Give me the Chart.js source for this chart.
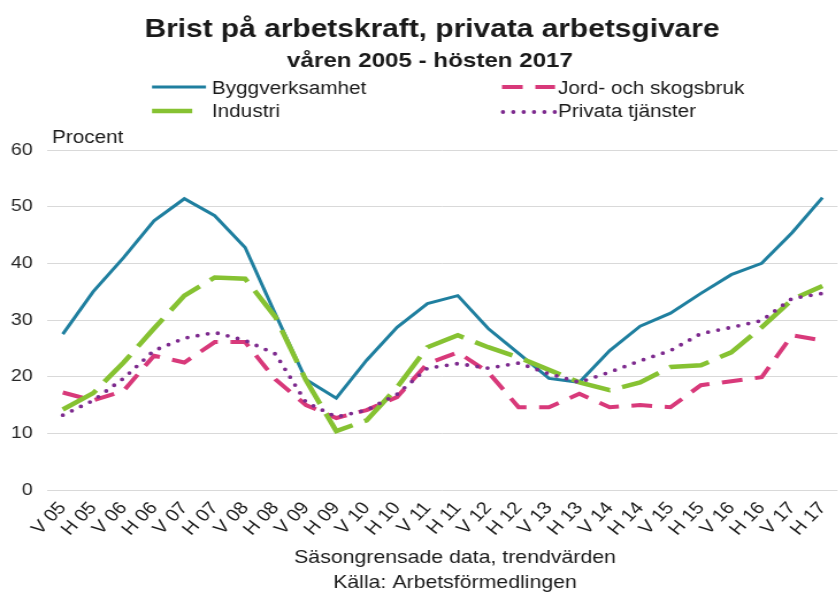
<!DOCTYPE html>
<html><head><meta charset="utf-8">
<script src="https://cdn.jsdelivr.net/npm/chart.js@4"></script>
<style>
html,body{margin:0;padding:0;background:#fff;overflow:hidden;width:838px;height:595px}
#wrap{position:absolute;left:0;top:0;width:739px;height:595px;transform:scaleX(1.15);transform-origin:0 0}
</style></head><body>
<div id="wrap"><canvas id="c" width="739" height="595"></canvas></div>
<script>
// ---- data ----
const categories = ['V 05','H 05','V 06','H 06','V 07','H 07','V 08','H 08','V 09','H 09','V 10','H 10','V 11','H 11','V 12','H 12','V 13','H 13','V 14','H 14','V 15','H 15','V 16','H 16','V 17','H 17'];
const byggverksamhet = [27.5,35,41,47.5,51.4,48.4,42.8,31,19.5,16.2,22.9,28.7,32.9,34.3,28.5,24.1,19.7,19,24.6,28.9,31.2,34.7,38,40,45.4,51.6];
const industri = [14.2,17.1,22.5,28.5,34.3,37.5,37.3,30.5,19.4,10.4,12.3,18.1,25.2,27.3,25.2,23.4,21.2,19,17.6,19,21.7,22,24.3,28.7,33.6,36];
const jordOchSkogsbruk = [17.2,15.8,17.5,23.7,22.5,26.1,26.1,19.5,15,12.7,14.1,16.4,22.3,24.3,20.8,14.6,14.6,17,14.6,15,14.6,18.5,19.2,19.9,27.3,26.4];
const privataTjanster = [13.2,15.8,19.7,24.6,26.8,27.8,26.4,24,15.5,12.9,14.1,16.9,21.5,22.3,21.5,22.4,20.5,19,20.8,22.8,24.6,27.6,28.7,29.9,33.8,34.7];
const yTickValues = [0,10,20,30,40,50,60];
const seriesNames = ['Byggverksamhet','Industri','Jord- och skogsbruk','Privata tjänster'];
const titleText = 'Brist på arbetskraft, privata arbetsgivare';
const subtitleText = 'våren 2005 - hösten 2017';
const yUnitText = 'Procent';
const footerLines = ['Säsongrensade data, trendvärden','Källa: Arbetsförmedlingen'];

const SX = 1.15;              // horizontal stretch of the reference
const vx = v => v / SX;       // visual x -> canvas x
const FONT = '"Liberation Sans", Arial, sans-serif';

const datasets = [
  {label: seriesNames[0], data: byggverksamhet, borderColor:'#1f7f9f', borderWidth:3, borderDash:[], borderCapStyle:'butt', order:3},
  {label: seriesNames[1], data: industri, borderColor:'#86c232', borderWidth:4.5, borderDash:[35,11], borderCapStyle:'butt', order:1},
  {label: seriesNames[2], data: jordOchSkogsbruk, borderColor:'#d8397a', borderWidth:4, borderDash:[18,11], borderCapStyle:'butt', order:2},
  {label: seriesNames[3], data: privataTjanster, borderColor:'#7d2a8e', borderWidth:3.8, borderDash:[0,9], borderCapStyle:'round', order:0}
].map(d => Object.assign({fill:false, tension:0, pointRadius:0, pointHoverRadius:0}, d));

const legendLayout = [
  {ds:0, x1:152, x2:206, y:87, tx:212, ty:94},
  {ds:1, x1:152, x2:202, y:111, tx:212, ty:117},
  {ds:2, x1:502, x2:555, y:87, tx:558, ty:94},
  {ds:3, x1:503, x2:555, y:112, tx:558, ty:117}
];

const textPlugin = {
  id: 'texts',
  afterDraw(chart) {
    const ctx = chart.ctx;
    ctx.save();
    ctx.fillStyle = '#1a1a1a';
    ctx.textBaseline = 'alphabetic';
    ctx.textAlign = 'center';
    ctx.font = 'bold 26px ' + FONT;
    ctx.fillText(titleText, vx(432), 37);
    ctx.font = 'bold 21px ' + FONT;
    ctx.fillText(subtitleText, vx(430), 67);
    // legend
    ctx.textAlign = 'left';
    ctx.font = '18px ' + FONT;
    legendLayout.forEach(l => {
      const d = chart.data.datasets[l.ds];
      ctx.save();
      ctx.strokeStyle = d.borderColor;
      ctx.lineWidth = d.borderWidth;
      ctx.lineCap = d.borderCapStyle;
      ctx.setLineDash(d.borderDash);
      ctx.beginPath();
      ctx.moveTo(vx(l.x1), l.y);
      ctx.lineTo(vx(l.x2), l.y);
      ctx.stroke();
      ctx.restore();
      ctx.fillStyle = '#1a1a1a';
      ctx.fillText(d.label, vx(l.tx), l.ty);
    });
    ctx.font = '18px ' + FONT;
    ctx.fillText(yUnitText, vx(52), 143);
    ctx.textAlign = 'center';
    ctx.font = '18.5px ' + FONT;
    ctx.fillText(footerLines[0], vx(455), 563);
    ctx.fillText(footerLines[1], vx(455), 588);
    ctx.restore();
  }
};

new Chart(document.getElementById('c'), {
  type: 'line',
  data: { labels: categories, datasets },
  options: {
    responsive: false,
    animation: false,
    devicePixelRatio: 1,
    layout: { padding: { top: 150, left: 0, right: 0, bottom: 0 } },
    plugins: { legend: { display: false }, title: { display: false }, tooltip: { enabled: false } },
    scales: {
      x: {
        offset: true,
        grid: { display: false, drawTicks: false },
        border: { display: false },
        ticks: { autoSkip: false, minRotation: 49, maxRotation: 49, padding: 8, color: '#1a1a1a', font: { family: FONT, size: 17.5 } },
        afterFit: s => { s.height = 105; }
      },
      y: {
        min: 0, max: 60,
        afterBuildTicks: s => { s.ticks = yTickValues.map(v => ({ value: v })); },
        grid: { color: '#d9d9d9', lineWidth: 1, drawTicks: false },
        border: { display: false },
        ticks: { padding: 13, color: '#262626', font: { family: FONT, size: 17 } },
        afterFit: s => { s.width = 41.4; }
      }
    }
  },
  plugins: [textPlugin]
});
</script>
</body></html>
